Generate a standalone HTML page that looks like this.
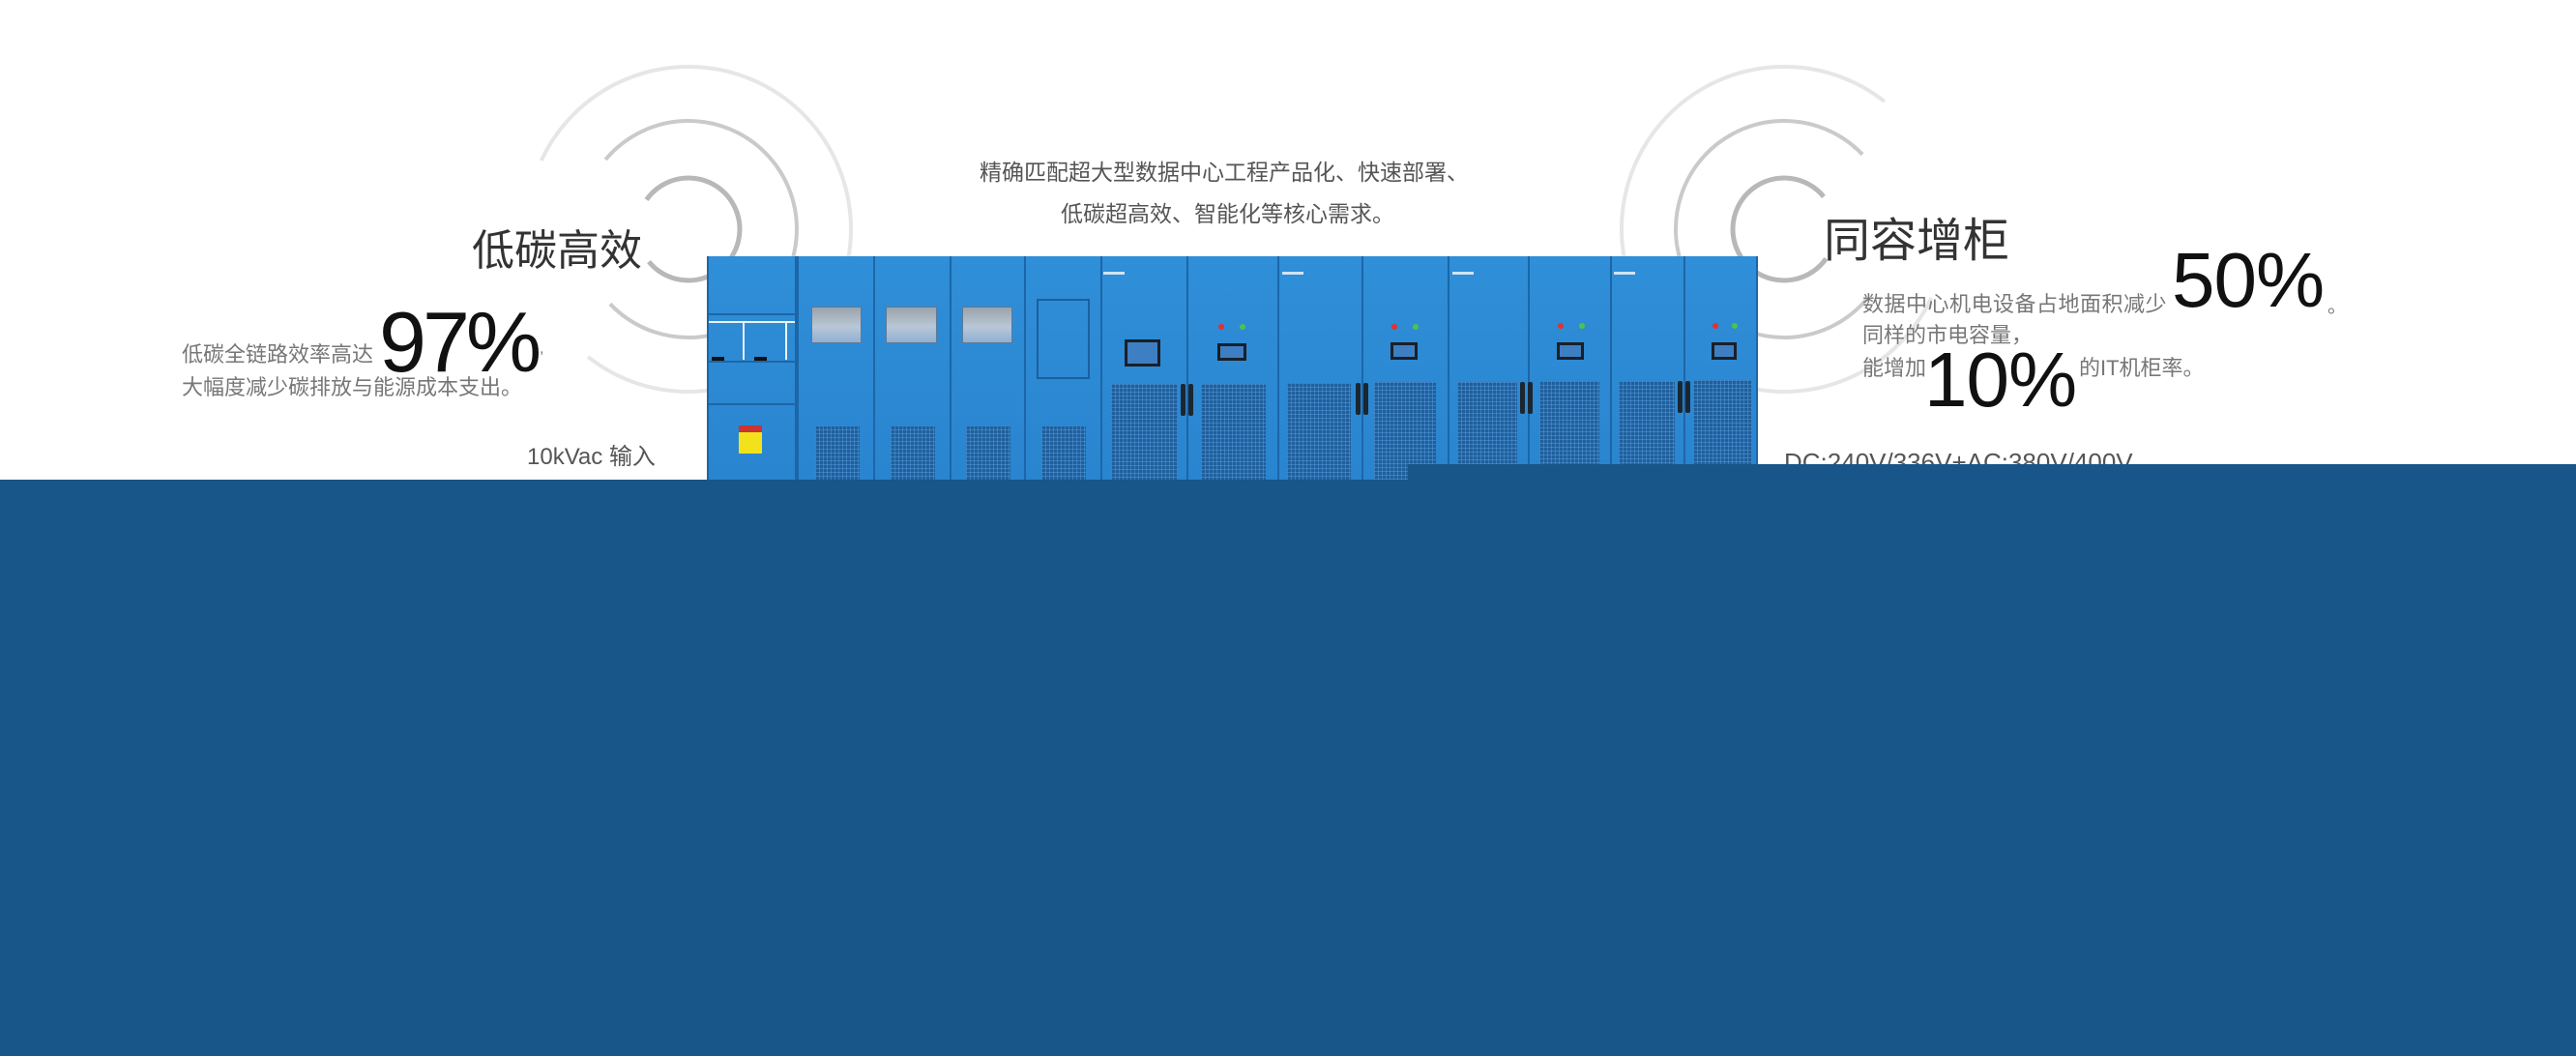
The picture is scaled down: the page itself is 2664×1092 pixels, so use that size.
<!DOCTYPE html>
<html><head><meta charset="utf-8"><style>
*{margin:0;padding:0;box-sizing:border-box}
body{width:2664px;height:1092px;background:#fff;position:relative;overflow:hidden;font-family:"Liberation Sans","Noto Sans CJK SC",sans-serif}
.a{position:absolute}
.t{position:absolute;white-space:nowrap}
.p{position:absolute;top:265px;height:240px;background:linear-gradient(180deg,#2f8fd8,#2a84cf);border-left:2px solid #1c66a8}
.g{position:absolute;background-color:#1f5f9c;background-image:repeating-linear-gradient(90deg,rgba(80,150,215,.55) 0 1px,transparent 1px 4px),repeating-linear-gradient(0deg,rgba(80,150,215,.55) 0 1px,transparent 1px 4px)}
.w{position:absolute;top:317px;height:38px;background:linear-gradient(180deg,#9aa3ab,#b9c7d6 55%,#8fb0d4);border:1px solid #5e7a95}
.scr{position:absolute;background:#1a1f28;padding:3px}
.scr i{display:block;width:100%;height:100%;background:#3d7fc2}
.h{position:absolute;width:5px;height:33px;background:#1b2630;border-radius:2px}
.led{position:absolute;width:6px;height:6px;border-radius:50%}
.logo{position:absolute;width:22px;height:3px;background:#cfe3f5;top:281px}
</style></head><body>

<svg class="a" style="left:0;top:0" width="2664" height="500">
 <g fill="none">
  <circle cx="712" cy="237" r="53" stroke="#b8b8b8" stroke-width="5" stroke-dasharray="264 400" transform="rotate(215 712 237)"/>
  <circle cx="712" cy="237" r="112" stroke="#cacaca" stroke-width="4" stroke-dasharray="540 800" transform="rotate(220 712 237)"/>
  <circle cx="712" cy="237" r="168" stroke="#e6e6e6" stroke-width="4" stroke-dasharray="830 1100" transform="rotate(205 712 237)"/>
  <circle cx="1845" cy="237" r="53" stroke="#b8b8b8" stroke-width="5" stroke-dasharray="264 400" transform="rotate(35 1845 237)"/>
  <circle cx="1845" cy="237" r="112" stroke="#cacaca" stroke-width="4" stroke-dasharray="540 800" transform="rotate(40 1845 237)"/>
  <circle cx="1845" cy="237" r="168" stroke="#e6e6e6" stroke-width="4" stroke-dasharray="830 1100" transform="rotate(25 1845 237)"/>
 </g>
</svg>

<div class="t" style="left:1013px;top:163px;font-size:23px;color:#555;line-height:30px">精确匹配超大型数据中心工程产品化、快速部署、</div>
<div class="t" style="left:1097px;top:206px;font-size:23px;color:#555;line-height:30px">低碳超高效、智能化等核心需求。</div>

<div class="t" style="left:488px;top:232px;font-size:44px;color:#333;line-height:56px">低碳高效</div>
<div class="t" style="left:392px;top:308px;font-size:88px;color:#111;line-height:92px;letter-spacing:-4px">97%</div>
<div class="t" style="left:558px;top:352px;font-size:16px;color:#777">,</div>
<div class="t" style="left:188px;top:353px;font-size:22px;color:#777;line-height:28px">低碳全链路效率高达</div>
<div class="t" style="left:188px;top:387px;font-size:22px;color:#777;line-height:28px">大幅度减少碳排放与能源成本支出。</div>
<div class="t" style="left:545px;top:458px;font-size:24px;color:#555;line-height:30px">10kVac 输入</div>

<div class="t" style="left:1886px;top:222px;font-size:48px;color:#333;line-height:56px">同容增柜</div>
<div class="t" style="left:2246px;top:247px;font-size:80px;color:#111;line-height:86px;letter-spacing:-1px">50%</div>
<div class="t" style="left:2407px;top:300px;font-size:20px;color:#777">。</div>
<div class="t" style="left:1926px;top:301px;font-size:22px;color:#777;line-height:28px;letter-spacing:0.5px">数据中心机电设备占地面积减少</div>
<div class="t" style="left:1926px;top:333px;font-size:22px;color:#777;line-height:28px">同样的市电容量，</div>
<div class="t" style="left:1926px;top:367px;font-size:22px;color:#777;line-height:28px">能增加</div>
<div class="t" style="left:1990px;top:350px;font-size:80px;color:#111;line-height:86px;letter-spacing:-1px">10%</div>
<div class="t" style="left:2150px;top:367px;font-size:22px;color:#777;line-height:28px">的IT机柜率。</div>
<div class="t" style="left:1845px;top:463px;font-size:26px;color:#555;line-height:30px">DC:240V/336V+AC:380V/400V</div>

<!-- MV switchgear -->
<div class="p" style="left:731px;width:93px;border-right:2px solid #1c66a8"></div>
<div class="a" style="left:733px;top:324px;width:89px;height:2px;background:#1c66a8"></div>
<div class="a" style="left:733px;top:332px;width:89px;height:2px;background:#e8f2fb"></div>
<div class="a" style="left:768px;top:332px;width:2px;height:40px;background:#e8f2fb"></div>
<div class="a" style="left:812px;top:332px;width:2px;height:40px;background:#e8f2fb"></div>
<div class="a" style="left:733px;top:373px;width:89px;height:2px;background:#1c66a8"></div>
<div class="a" style="left:736px;top:369px;width:13px;height:4px;background:#111"></div>
<div class="a" style="left:780px;top:369px;width:13px;height:4px;background:#111"></div>
<div class="a" style="left:733px;top:417px;width:89px;height:2px;background:#1c66a8"></div>
<div class="a" style="left:764px;top:440px;width:24px;height:7px;background:#c33"></div>
<div class="a" style="left:764px;top:447px;width:24px;height:22px;background:#f2e21b"></div>

<!-- section 2 panels -->
<div class="p" style="left:824px;width:79px"></div>
<div class="p" style="left:903px;width:79px"></div>
<div class="p" style="left:982px;width:77px"></div>
<div class="p" style="left:1059px;width:79px"></div>
<div class="w" style="left:839px;width:52px"></div>
<div class="w" style="left:916px;width:53px"></div>
<div class="w" style="left:995px;width:52px"></div>
<div class="a" style="left:1072px;top:309px;width:55px;height:83px;border:2px solid #1c5f9e"></div>
<div class="g" style="left:843px;top:441px;width:46px;height:60px"></div>
<div class="g" style="left:921px;top:441px;width:46px;height:60px"></div>
<div class="g" style="left:999px;top:441px;width:46px;height:60px"></div>
<div class="g" style="left:1077px;top:441px;width:46px;height:60px"></div>

<!-- UPS doors -->
<div class="p" style="left:1138px;width:89px"></div>
<div class="p" style="left:1227px;width:94px"></div>
<div class="p" style="left:1321px;width:87px"></div>
<div class="p" style="left:1408px;width:89px"></div>
<div class="p" style="left:1497px;width:83px"></div>
<div class="p" style="left:1580px;width:85px"></div>
<div class="p" style="left:1665px;width:76px"></div>
<div class="p" style="left:1741px;width:77px;border-right:2px solid #1c66a8"></div>

<div class="logo" style="left:1141px"></div><div class="logo" style="left:1326px"></div><div class="logo" style="left:1502px"></div><div class="logo" style="left:1669px"></div>

<div class="g" style="left:1149px;top:397px;width:69px;height:105px"></div>
<div class="g" style="left:1242px;top:397px;width:67px;height:105px"></div>
<div class="g" style="left:1331px;top:396px;width:66px;height:105px"></div>
<div class="g" style="left:1421px;top:395px;width:64px;height:105px"></div>
<div class="g" style="left:1507px;top:395px;width:62px;height:105px"></div>
<div class="g" style="left:1592px;top:394px;width:62px;height:105px"></div>
<div class="g" style="left:1674px;top:394px;width:58px;height:105px"></div>
<div class="g" style="left:1751px;top:393px;width:60px;height:105px"></div>

<div class="h" style="left:1221px;top:397px"></div><div class="h" style="left:1229px;top:397px"></div>
<div class="h" style="left:1402px;top:396px"></div><div class="h" style="left:1410px;top:396px"></div>
<div class="h" style="left:1572px;top:395px"></div><div class="h" style="left:1580px;top:395px"></div>
<div class="h" style="left:1735px;top:394px"></div><div class="h" style="left:1743px;top:394px"></div>

<div class="scr" style="left:1163px;top:351px;width:37px;height:28px"><i></i></div>
<div class="scr" style="left:1259px;top:355px;width:30px;height:18px"><i></i></div>
<div class="scr" style="left:1438px;top:354px;width:28px;height:18px"><i></i></div>
<div class="scr" style="left:1610px;top:354px;width:28px;height:18px"><i></i></div>
<div class="scr" style="left:1770px;top:354px;width:26px;height:18px"><i></i></div>

<div class="led" style="left:1260px;top:335px;background:#e53030"></div><div class="led" style="left:1282px;top:335px;background:#4cc34c"></div>
<div class="led" style="left:1439px;top:335px;background:#e53030"></div><div class="led" style="left:1461px;top:335px;background:#4cc34c"></div>
<div class="led" style="left:1611px;top:334px;background:#e53030"></div><div class="led" style="left:1633px;top:334px;background:#4cc34c"></div>
<div class="led" style="left:1771px;top:334px;background:#e53030"></div><div class="led" style="left:1791px;top:334px;background:#4cc34c"></div>

<!-- bottom blue -->
<div class="a" style="left:0;top:496px;width:2664px;height:596px;background:#185588"></div>
<div class="a" style="left:1456px;top:480px;width:1208px;height:20px;background:#185588"></div>
</body></html>
